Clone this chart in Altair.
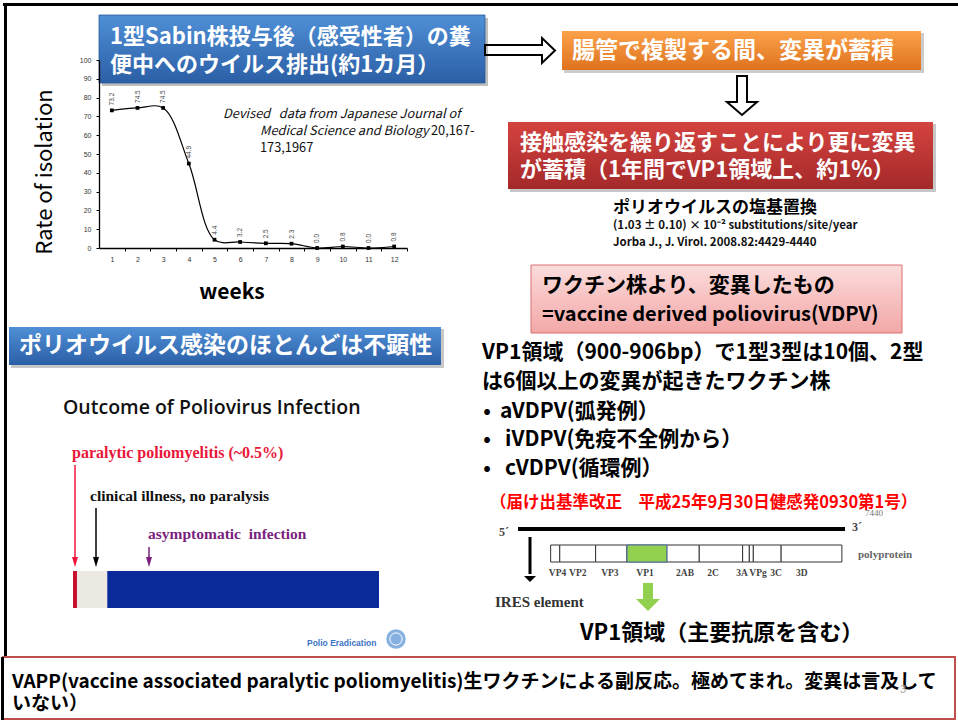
import altair as alt
import pandas as pd

# ---------------- data ----------------
weeks = list(range(1, 13))
isolation_rate = [73.2, 74.5, 74.5, 44.9, 4.4, 3.2, 2.5, 2.3, 0.0, 0.8, 0.0, 0.8]

outcome_groups = ["paralytic", "clinical", "asymptomatic"]
outcome_share = [1.3, 9.9, 88.8]
outcome_colors = ["#c8102e", "#ebe9e1", "#0a2a9a"]

genome_len = 7440
segments = ["VP4", "VP2", "VP3", "VP1", "2AB", "2C", "3A", "VPg", "3C", "3D"]
seg_start = [743, 950, 1766, 2480, 3386, 4124, 5111, 5263, 5354, 5987]
seg_end = [950, 1766, 2480, 3386, 4124, 5111, 5263, 5354, 5987, 7369]
seg_label_pos = [900, 1360, 2090, 2890, 3800, 4440, 5100, 5460, 5870, 6460]

# ---------------- helpers (pixel canvas) ----------------
W, H = 958, 722
XS = alt.Scale(domain=[0, W], range=[0, W], nice=False, zero=False)
YS = alt.Scale(domain=[0, H], range=[0, H], nice=False, zero=False)
JP = "Noto Sans CJK JP"
SERIF = "Liberation Serif"
NB = "\u00a0"


def rect(x1, x2, y1, y2, **kw):
    df = pd.DataFrame({"x": [x1], "x2": [x2], "y": [y1], "y2": [y2]})
    return alt.Chart(df).mark_rect(**kw).encode(
        x=alt.X("x:Q", scale=XS, axis=None), x2="x2:Q",
        y=alt.Y("y:Q", scale=YS, axis=None), y2="y2:Q")


def text(rows, **kw):
    df = pd.DataFrame(rows, columns=["x", "y", "t"])
    return alt.Chart(df).mark_text(**kw).encode(
        x=alt.X("x:Q", scale=XS, axis=None),
        y=alt.Y("y:Q", scale=YS, axis=None), text="t:N")


def poly(pts, closed=False, **kw):
    df = pd.DataFrame({"x": [p[0] for p in pts], "y": [p[1] for p in pts],
                       "i": list(range(len(pts)))})
    return alt.Chart(df).mark_line(
        interpolate="linear-closed" if closed else "linear", **kw).encode(
        x=alt.X("x:Q", scale=XS, axis=None),
        y=alt.Y("y:Q", scale=YS, axis=None), order="i:Q")


def sym(x, y, shape, size, **kw):
    df = pd.DataFrame({"x": [x], "y": [y]})
    return alt.Chart(df).mark_point(shape=shape, size=size, **kw).encode(
        x=alt.X("x:Q", scale=XS, axis=None),
        y=alt.Y("y:Q", scale=YS, axis=None))


def grad(top, bottom):
    return alt.Gradient(gradient="linear", x1=0, y1=0, x2=0, y2=1,
                        stops=[alt.GradientStop(color=top, offset=0),
                               alt.GradientStop(color=bottom, offset=1)])


TRI_DOWN = "M-1,-0.5L1,-0.5L0,0.5Z"
THIN_HEAD = "M-0.3,-0.5L0.3,-0.5L0,0.5Z"

layers = []

# ---------------- slide frame ----------------
layers.append(rect(3, W, 3, 6, fill="black"))
layers.append(rect(4, 7, 3, 658, fill="black"))

# ---------------- line chart ----------------
lc = pd.DataFrame({"week": weeks, "rate": isolation_rate})
lc["label"] = lc["rate"].map(lambda v: f"{v:.1f}")
XW = alt.Scale(domain=[0.5, 12.5], range=[99, 407], nice=False, zero=False)
YR = alt.Scale(domain=[0, 100], range=[248, 60], nice=False, zero=False)
half = (407 - 99) / 12 / 2
x_axis = alt.Axis(values=weeks, offset=-(H - 248), tickOffset=half, labelOffset=-half,
                  grid=False, title=None, labelFontSize=7, labelFont="Liberation Sans",
                  labelColor="#333", domainColor="#000", tickColor="#000", tickSize=3,
                  labelPadding=4, domainWidth=1.3, labelAngle=0, zindex=1)
y_axis = alt.Axis(values=list(range(0, 101, 10)), offset=-99, grid=False, title=None,
                  labelFontSize=7, labelFont="Liberation Sans", labelColor="#333",
                  domainColor="#000", tickColor="#000", tickSize=3, labelPadding=5,
                  domainWidth=1.3, zindex=1)
base = alt.Chart(lc)
xenc = alt.X("week:Q", scale=XW, axis=x_axis)
yenc = alt.Y("rate:Q", scale=YR, axis=y_axis)
line_chart = alt.layer(
    base.mark_line(interpolate="catmull-rom", color="black", strokeWidth=1.2).encode(x=xenc, y=yenc),
    base.mark_point(shape="square", filled=True, size=14, color="black", opacity=1).encode(x=xenc, y=yenc),
    base.mark_text(angle=270, align="left", baseline="middle", dx=5, fontSize=6.5,
                   font="Liberation Sans", color="#444").encode(x=xenc, y=yenc, text="label:N"),
)
layers.append(line_chart)

layers.append(text([(45, 172, "Rate of isolation")], font=JP, fontSize=22, angle=270,
                   align="center", baseline="middle", color="#000"))
layers.append(text([(232, 293, "weeks")], font=JP, fontSize=21, fontWeight="bold",
                   align="center", baseline="middle", color="#000"))
layers.append(text([(223, 114, "Devised" + NB * 3 + "data from Japanese Journal of"),
                    (260, 131, "Medical Science and Biology")],
                   font=JP, fontSize=12.8, fontStyle="italic", align="left",
                   baseline="middle", color="#111"))
layers.append(text([(431, 131, "20,167-"), (260, 148, "173,1967")],
                   font=JP, fontSize=12.8, align="left", baseline="middle", color="#111"))

# ---------------- blue title box ----------------
layers.append(rect(102, 488, 18, 86, fill="#000", opacity=0.25))
layers.append(rect(99, 485, 15, 83, fill=grad("#4f8fd6", "#2b5fa6"), stroke="#2a5a9a", strokeWidth=0.8))
layers.append(text([(110, 37, "1型Sabin株投与後（感受性者）の糞"),
                    (110, 65, "便中へのウイルス排出(約1カ月）")],
                   font=JP, fontSize=22, fontWeight="bold", color="white",
                   align="left", baseline="middle"))

# arrows
layers.append(poly([(485, 45), (542, 45), (542, 38), (555, 50.5), (542, 63), (542, 55), (485, 55)],
                   closed=True, color="black", strokeWidth=2))
layers.append(poly([(737, 76), (747, 76), (747, 102), (757, 102), (742, 115), (727, 102), (737, 102)],
                   closed=True, color="black", strokeWidth=2))

# orange box
layers.append(rect(564, 924, 33, 73, fill="#000", opacity=0.2))
layers.append(rect(562, 921, 31, 70, fill=grad("#fba24a", "#df721e")))
layers.append(text([(572, 50.5, "腸管で複製する間、変異が蓄積")], font=JP, fontSize=23,
                   fontWeight="bold", color="white", align="left", baseline="middle"))

# red box
layers.append(rect(510, 936, 124, 192, fill="#000", opacity=0.22))
layers.append(rect(508, 933, 122, 189, fill=grad("#d4433f", "#a4292a")))
layers.append(text([(520, 143, "接触感染を繰り返すことにより更に変異"),
                    (520, 170, "が蓄積（1年間でVP1領域上、約1%）")],
                   font=JP, fontSize=22, fontWeight="bold", color="white",
                   align="left", baseline="middle"))

layers.append(text([(613, 208, "ポリオウイルスの塩基置換")], font=JP, fontSize=17,
                   fontWeight="bold", color="#000", align="left", baseline="middle"))
layers.append(text([(613, 226, "(1.03 ± 0.10) × 10⁻² substitutions/site/year"),
                    (613, 243, "Jorba J., J. Virol. 2008.82:4429-4440")],
                   font=JP, fontSize=11.5, fontWeight="bold", color="#111",
                   align="left", baseline="middle"))

# ---------------- lower-left: outcome ----------------
layers.append(rect(11, 444, 329, 368, fill="#000", opacity=0.22))
layers.append(rect(9, 441, 327, 365, fill=grad("#4f8fd6", "#2b5fa6")))
layers.append(text([(19, 346, "ポリオウイルス感染のほとんどは不顕性")], font=JP, fontSize=23,
                   fontWeight="bold", color="white", align="left", baseline="middle"))
layers.append(text([(63, 408, "Outcome of Poliovirus Infection")], font="Open Sans",
                   fontSize=19.5, fontWeight=600, color="#111", align="left", baseline="middle"))
layers.append(text([(72, 453, "paralytic poliomyelitis (~0.5%)")], font=SERIF, fontSize=16,
                   fontWeight="bold", color="#e8173a", align="left", baseline="middle"))
layers.append(text([(90, 496, "clinical illness, no paralysis")], font=SERIF, fontSize=15.5,
                   fontWeight="bold", color="#111", align="left", baseline="middle"))
layers.append(text([(148, 534, "asymptomatic" + NB + " infection")], font=SERIF, fontSize=15.5,
                   fontWeight="bold", color="#7b1f7f", align="left", baseline="middle"))
for ax, y0, col in [(75, 465, "#f0143c"), (96, 508, "#000"), (149, 547, "#7b1f7f")]:
    layers.append(poly([(ax, y0), (ax, 560)], color=col, strokeWidth=1.5))
    layers.append(sym(ax, 562, THIN_HEAD, 400, filled=True, color=col, opacity=1))

out = pd.DataFrame({"group": outcome_groups, "share": outcome_share})
out["end"] = out["share"].cumsum()
out["start"] = out["end"] - out["share"]
XO = alt.Scale(domain=[0, 100], range=[73, 379], nice=False, zero=False)
layers.append(alt.Chart(out).mark_rect().encode(
    x=alt.X("start:Q", scale=XO, axis=None), x2="end:Q",
    y=alt.value(571), y2=alt.value(608),
    color=alt.Color("group:N", scale=alt.Scale(domain=outcome_groups, range=outcome_colors),
                    legend=None)))

layers.append(text([(307, 643, "Polio Eradication")], font="Liberation Sans", fontSize=8.5,
                   fontWeight="bold", color="#3d73c5", align="left", baseline="middle"))
layers.append(sym(396, 639, "circle", 380, filled=True, color="#86b0e0", opacity=1))
layers.append(sym(396, 639, "circle", 150, filled=False, color="white", strokeWidth=1, opacity=1))

# ---------------- lower-right ----------------
layers.append(rect(531, 902, 265, 333, fill=grad("#fbdcdc", "#f3a7a7"), stroke="#d97070", strokeWidth=1))
layers.append(text([(542, 286, "ワクチン株より、変異したもの")], font=JP, fontSize=21,
                   fontWeight="bold", color="#000", align="left", baseline="middle"))
layers.append(text([(542, 315, "=vaccine derived poliovirus(VDPV)")], font=JP, fontSize=20,
                   fontWeight="bold", color="#000", align="left", baseline="middle"))
layers.append(text([(482, 353, "VP1領域（900-906bp）で1型3型は10個、2型"),
                    (482, 382, "は6個以上の変異が起きたワクチン株")],
                   font=JP, fontSize=21, fontWeight="bold", color="#000",
                   align="left", baseline="middle"))
layers.append(text([(487, 412, "•"), (487, 440, "•"), (487, 469, "•")], font=JP, fontSize=20,
                   fontWeight="bold", color="#000", align="center", baseline="middle"))
layers.append(text([(500, 412, "aVDPV(弧発例）"), (505, 440, "iVDPV(免疫不全例から）"),
                    (505, 469, "cVDPV(循環例）")],
                   font=JP, fontSize=21, fontWeight="bold", color="#000",
                   align="left", baseline="middle"))
layers.append(text([(490, 503, "（届け出基準改正　平成25年9月30日健感発0930第1号）")], font=JP,
                   fontSize=16.5, fontWeight="bold", color="#ff0000", align="left",
                   baseline="middle"))

# genome diagram
XG = alt.Scale(domain=[0, genome_len], range=[518, 845], nice=False, zero=False)
layers.append(text([(874, 513, "7440")], font=SERIF, fontSize=9, color="#777",
                   align="center", baseline="middle"))
layers.append(alt.Chart(pd.DataFrame({"a": [0], "b": [genome_len]})).mark_rule(
    strokeWidth=4, color="black").encode(
    x=alt.X("a:Q", scale=XG, axis=None), x2="b:Q", y=alt.value(529)))
layers.append(text([(504, 532, "5´"), (857, 527, "3´")], font=SERIF, fontSize=12,
                   fontWeight="bold", color="#444", align="center", baseline="middle"))
seg = pd.DataFrame({"seg": segments, "start": seg_start, "end": seg_end, "pos": seg_label_pos})
layers.append(alt.Chart(seg).mark_rect(fill="white", stroke="#333", strokeWidth=1).encode(
    x=alt.X("start:Q", scale=XG, axis=None), x2="end:Q", y=alt.value(545), y2=alt.value(562)))
layers.append(alt.Chart(seg).transform_filter(alt.datum.seg == "VP1").mark_rect(
    fill="#92d050", stroke="#4a6fa5", strokeWidth=1).encode(
    x=alt.X("start:Q", scale=XG, axis=None), x2="end:Q", y=alt.value(545), y2=alt.value(562)))
layers.append(alt.Chart(seg).mark_text(font=SERIF, fontSize=9.5, fontWeight="bold",
                                       color="#444", baseline="middle").encode(
    x=alt.X("pos:Q", scale=XG, axis=None), y=alt.value(573), text="seg:N"))
layers.append(text([(858, 555, "polyprotein")], font=SERIF, fontSize=11, fontWeight="bold",
                   color="#666", align="left", baseline="middle"))
layers.append(poly([(530, 537), (530, 574)], color="black", strokeWidth=3))
layers.append(sym(530, 579, TRI_DOWN, 144, filled=True, color="black", opacity=1))
layers.append(text([(495, 602, "IRES element")], font=SERIF, fontSize=15, fontWeight="bold",
                   color="#333", align="left", baseline="middle"))
layers.append(rect(643, 653, 583, 601, fill="#92d050"))
layers.append(sym(648, 605, TRI_DOWN, 576, filled=True, color="#92d050", opacity=1))
layers.append(text([(580, 633, "VP1領域（主要抗原を含む）")], font=JP, fontSize=22,
                   fontWeight="bold", color="#000", align="left", baseline="middle"))

# ---------------- footer ----------------
layers.append(rect(3, 955, 657, 719, fill="white", stroke="#c0504d", strokeWidth=2))
layers.append(rect(1, 4, 657, 720, fill="black"))
layers.append(text([(12, 682, "VAPP(vaccine associated paralytic poliomyelitis)生ワクチンによる副反応。極めてまれ。変異は言及して"),
                    (12, 704, "いない）")],
                   font=JP, fontSize=19, fontWeight="bold", color="#000",
                   align="left", baseline="middle"))
layers.append(text([(903, 690, "3")], font="Liberation Sans", fontSize=11, color="#aaa",
                   align="center", baseline="middle"))

chart = alt.layer(*layers).properties(
    width=W, height=H, padding=0, autosize=alt.AutoSizeParams(type="none"),
    background="white"
).resolve_scale(x="independent", y="independent", color="independent").configure_view(stroke=None)

chart.save("out.html", embed_options={"renderer": "svg", "actions": False})
